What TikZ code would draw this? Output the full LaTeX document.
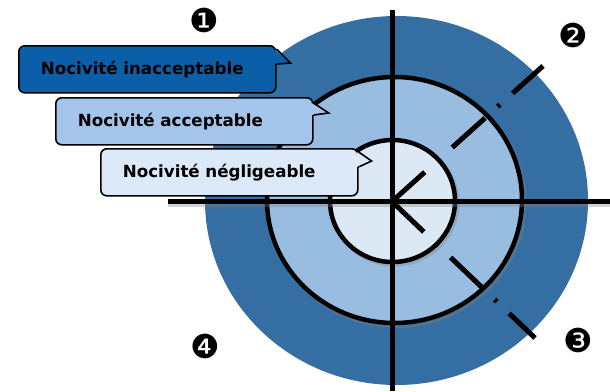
\documentclass[tikz,border=0pt]{standalone}
\usepackage{fontspec}
\setmainfont{DejaVu Sans}
\usetikzlibrary{positioning}

\definecolor{ringout}{RGB}{53,110,163}
\definecolor{ringmid}{RGB}{152,189,224}
\definecolor{ringin}{RGB}{220,232,244}
\definecolor{boxdark}{RGB}{11,94,168}
\definecolor{boxmid}{RGB}{164,197,233}
\definecolor{boxlight}{RGB}{220,233,249}

\tikzset{
  axis/.style={line width=5pt},
  ring/.style={draw=black, line width=4.5pt},
  shade/.style={draw=black!50, opacity=.35, line width=5pt},
  ray/.style={line width=5pt, dash pattern=on 44pt off 17pt on 3pt off 17pt},
  bubble/.style={draw=black, line width=1.6pt, rounded corners=6pt, anchor=north west,
    text width=213pt, inner xsep=22pt, inner ysep=0pt, minimum height=47pt,
    align=left, font=\fontsize{16.7}{18}\selectfont\bfseries},
  num/.style={font=\fontsize{33}{33}\selectfont, inner sep=0pt}
}

\begin{document}
\begin{tikzpicture}[x=1pt, y=-1pt]
\useasboundingbox (0,0) rectangle (610,391);
\coordinate (O) at (392,201.5);
\coordinate (NE) at (543,66);
\coordinate (SE) at (535,338);

\fill[ringout] (396.5,200.5) ellipse [x radius=191.5, y radius=184.5];
\draw[shade] (396.5,202.5) ellipse [x radius=127.5, y radius=123];
\filldraw[ring, fill=ringmid] (394.5,200) ellipse [x radius=127.5, y radius=123];
\draw[shade] (394.5,203) ellipse [x radius=62.5, y radius=61];
\filldraw[ring, fill=ringin] (392.5,201) ellipse [x radius=62.5, y radius=61];

\draw[shade] (168,204.5) -- (610,204.5);
\draw[axis] (168,201.5) coordinate (W) -- (610,201.5) coordinate (E);
\draw[axis] (392,10) coordinate (N) -- (392,391) coordinate (S);
\draw[ray] (O) -- (NE);
\draw[ray] (O) -- (SE);

\node[bubble, fill=boxdark] (inacc) at (18,45) {Nocivité inacceptable};
\node[bubble, fill=boxmid] (acc) at (55,97) {Nocivité acceptable};
\node[bubble, fill=boxlight] (negl) at (100,148) {Nocivité négligeable};

\foreach \b/\c/\t/\tx/\ty/\u in {inacc/boxdark/4/14/18/19, acc/boxmid/6/15/16/18, negl/boxlight/4/13/13/19} {
  \fill[\c] ([shift={(-2,\t)}]\b.north east) -- ([shift={(\tx,\ty)}]\b.north east)
            -- ([shift={(-2,\u)}]\b.north east) -- cycle;
  \draw[line width=1.6pt, line join=miter] ([shift={(0,\t)}]\b.north east)
            -- ([shift={(\tx,\ty)}]\b.north east) -- ([shift={(0,\u)}]\b.north east);
}

\node[num] (one) at (204,20) {❶};
\node[num] (two) at (573,35) {❷};
\node[num] (three) at (578,340) {❸};
\node[num] (four) at (205,346) {❹};
\end{tikzpicture}
\end{document}
